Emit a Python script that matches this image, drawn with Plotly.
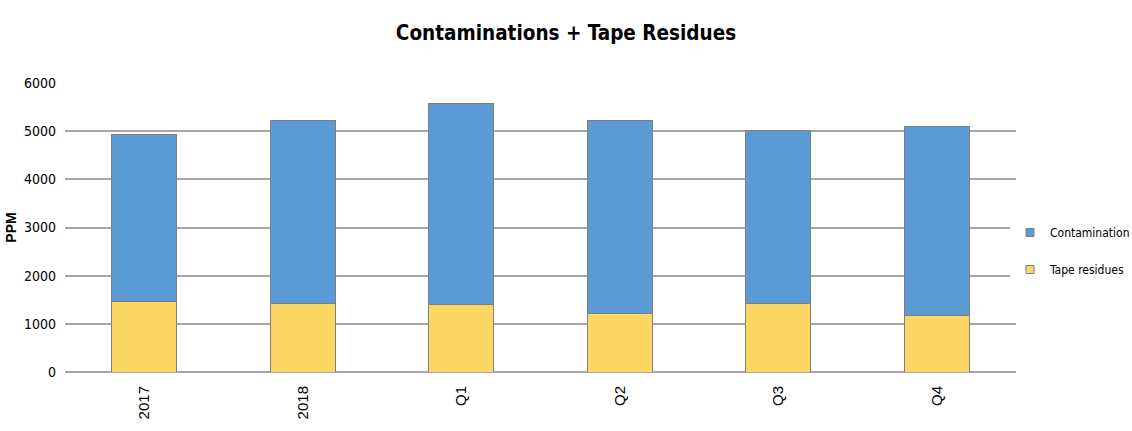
import plotly.graph_objects as go

categories = ["2017", "2018", "Q1", "Q2", "Q3", "Q4"]
tape_residues = [1460, 1420, 1410, 1220, 1420, 1180]
contamination = [3480, 3800, 4170, 4000, 3590, 3910]

narrow = "DejaVu Sans Condensed, Liberation Sans Narrow, Arial Narrow, sans-serif"
outline = dict(color="#7f7f7f", width=1)
yellow = "#FDD766"
blue = "#5B9BD5"

fig = go.Figure()
fig.add_trace(go.Bar(
    x=categories, y=tape_residues, name="Tape residues",
    marker=dict(color=yellow, line=outline), showlegend=False,
))
fig.add_trace(go.Bar(
    x=categories, y=contamination, name="Contamination",
    marker=dict(color=blue, line=outline), showlegend=False,
))

# compact square legend keys
for name, color, rank in [("Contamination", blue, 1), ("Tape residues", yellow, 2)]:
    fig.add_trace(go.Scatter(
        x=[None], y=[None], mode="markers", name=name,
        marker=dict(symbol="square", size=8, color=color,
                    line=dict(color="#7f7f7f", width=1)),
        legendgroup=name, legendrank=rank,
    ))

fig.update_layout(
    width=1132, height=431,
    barmode="stack", bargap=0.59,
    plot_bgcolor="white", paper_bgcolor="white",
    margin=dict(l=65, r=116, t=83, b=59, autoexpand=False),
    title=dict(text="<b>Contaminations + Tape Residues</b>", x=0.5, xanchor="center",
               y=0.925, yanchor="middle",
               font=dict(family=narrow, size=20.5, color="black")),
    legend=dict(xref="container", yref="container", x=1010 / 1132, y=1 - 251 / 431,
                xanchor="left", yanchor="middle",
                traceorder="grouped", tracegroupgap=18,
                font=dict(family=narrow, size=12, color="black"),
                itemwidth=30),
    xaxis=dict(tickangle=-90, showgrid=False, showline=False, ticks="",
               ticklabelstandoff=10,
               tickfont=dict(family="Liberation Sans, Arial, sans-serif", size=15, color="black")),
    yaxis=dict(range=[0, 6000], dtick=1000, showgrid=True, gridcolor="#a6a6a6", gridwidth=1.5,
               zeroline=True, zerolinecolor="#a6a6a6", zerolinewidth=1.5,
               showline=False, ticks="", ticklabelstandoff=8, automargin=False,
               tickfont=dict(family=narrow, size=14, color="black"),
               title=dict(text="<b>PPM</b>", font=dict(family="Liberation Sans, Arial, sans-serif",
                                                         size=14, color="black"), standoff=4)),
)

fig.write_html("out.html")
